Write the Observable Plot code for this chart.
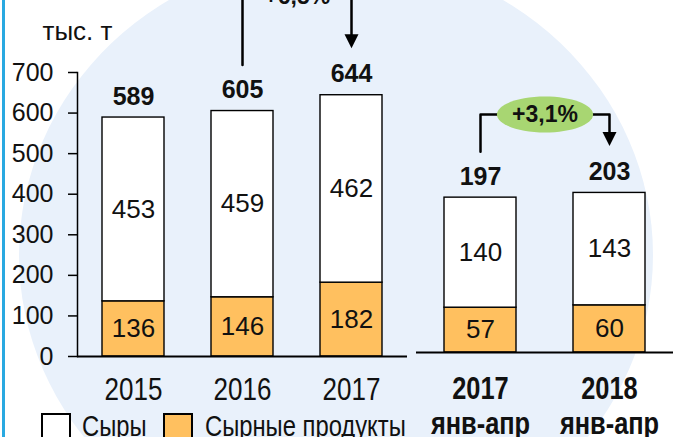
<!DOCTYPE html>
<html><head><meta charset="utf-8">
<script src="https://cdn.jsdelivr.net/npm/d3@7"></script>
<script src="https://cdn.jsdelivr.net/npm/@observablehq/plot@0.6"></script>
<style>
body{margin:0;background:#fff;}
#wrap{position:relative;width:673px;height:437px;overflow:hidden;background:#fff;font-family:'Liberation Sans',Arial,sans-serif;}
#bg{position:absolute;left:19px;top:-45px;width:634px;height:600px;border-radius:50%;background:#e9f1fb;}
#edge{position:absolute;left:2px;top:0;width:3px;height:437px;background:#29a9e1;}
.layer{position:absolute;left:0;top:0;}
.layer svg{background:transparent !important;overflow:visible;}
.lg{position:absolute;}
.sw{top:413px;width:30px;height:30px;border:2px solid #000;box-sizing:border-box;}
.lt{top:411px;font-family:'Liberation Sans',Arial,sans-serif;font-size:29px;line-height:30px;color:#111;white-space:nowrap;transform:scaleX(0.82);transform-origin:left center;}
</style>
</head><body>
<div id="wrap">
  <div id="bg"></div>
  <div id="edge"></div>
  <div id="left" class="layer"></div>
  <div id="right" class="layer"></div>
  <div id="legend"></div>
</div>
<script>
// ---- data ----
const years = ["2015", "2016", "2017"];
const cheeseYear = [453, 459, 462];
const productsYear = [136, 146, 182];
const totalYear = [589, 605, 644];
const periods = ["2017\nянв-апр", "2018\nянв-апр"];
const cheesePeriod = [140, 143];
const productsPeriod = [57, 60];
const totalPeriod = [197, 203];
const yTicks = [0, 100, 200, 300, 400, 500, 600, 700];
const seriesNames = ["Сыры", "Сырные продукты"];
const unitLabel = "тыс. т";
const growthYear = ["2016", "2017", "+6,5%"];
const growthPeriod = ["2017\nянв-апр", "2018\nянв-апр", "+3,1%"];

// ---- styles ----
const FONT = "'Liberation Sans', Arial, sans-serif";
const colors = ["#ffffff", "#ffc05f"];
const W = 673, H = 437;

function rowsOf(cats, cheese, products) {
  const rows = [];
  cats.forEach((c, i) => {
    rows.push({cat: c, series: seriesNames[1], value: products[i]});
    rows.push({cat: c, series: seriesNames[0], value: cheese[i]});
  });
  return rows;
}

const ellipseSym = {draw(ctx, size) {
  const r = Math.sqrt(size / Math.PI), rx = r * 2.67, ry = r, k = 0.5523;
  ctx.moveTo(rx, 0);
  ctx.bezierCurveTo(rx, ry * k, rx * k, ry, 0, ry);
  ctx.bezierCurveTo(-rx * k, ry, -rx, ry * k, -rx, 0);
  ctx.bezierCurveTo(-rx, -ry * k, -rx * k, -ry, 0, -ry);
  ctx.bezierCurveTo(rx * k, -ry, rx, -ry * k, rx, 0);
  ctx.closePath();
}};
const arrowSym = {draw(ctx, size) {
  const r = Math.sqrt(size / Math.PI);
  ctx.moveTo(0, 0); ctx.lineTo(-r, -2 * r); ctx.lineTo(r, -2 * r); ctx.closePath();
}};

function squeeze(svg, k) {
  d3.select(svg).selectAll('g[aria-label="x-axis tick label"] text').each(function () {
    const t = this.getAttribute("transform") || "";
    this.setAttribute("transform", t + ` scale(${k},1)`);
  });
}

function panel(o) {
  const rows = rowsOf(o.cats, o.cheese, o.products);
  const totals = o.cats.map((c, i) => ({cat: c, total: o.totals[i]}));
  const plotH = H - o.marginTop - o.marginBottom;
  const ppu = plotH / o.yDomain[1];
  const plotW = W - o.marginLeft - o.marginRight;
  const step = plotW / (o.cats.length - o.padIn + 2 * o.padOut);
  const [from, to, label] = o.growth;
  const iF = o.cats.indexOf(from), iT = o.cats.indexOf(to);
  const startV = o.totals[iF] + 46 / ppu;
  const tipV = o.totals[iT] + 47 / ppu;
  const baseV = tipV + 12 / ppu;
  const levelV = o.levelPx / ppu;
  const bracket = [
    {x: from, y: startV}, {x: from, y: levelV}, {x: to, y: levelV}, {x: to, y: baseV}
  ];
  const marks = [
    Plot.barY(rows, Plot.stackY({x: "cat", y: "value", fill: "series", stroke: "#000", strokeWidth: 1.4})),
    Plot.text(rows, Plot.stackY({x: "cat", y: "value", text: "value", fontSize: 26, fontFamily: FONT, fill: "#111"})),
    Plot.text(totals, {x: "cat", y: "total", text: "total", dy: -21, fontSize: 25, fontWeight: "bold", fontFamily: FONT, fill: "#111"}),
    Plot.ruleY([0], {stroke: "#000", strokeWidth: 1.8}),
    Plot.line(bracket, {x: "x", y: "y", stroke: "#000", strokeWidth: 2.5}),
    Plot.dot([{x: to, y: tipV}], {x: "x", y: "y", symbol: arrowSym, r: 7, fill: "#000", stroke: null})
  ];
  if (o.ellipse) marks.push(Plot.dot([{x: from, y: levelV}], {x: "x", y: "y", dx: step / 2, symbol: ellipseSym, r: 18, fill: "#a8d672", stroke: null}));
  marks.push(Plot.text([{x: from, y: levelV, t: label}], {x: "x", y: "y", text: "t", dx: step / 2, fontSize: 23, fontWeight: "bold", fontFamily: FONT, fill: "#111"}));
  marks.push(...o.axes);
  const svg = Plot.plot({
    width: W, height: H,
    marginLeft: o.marginLeft, marginRight: o.marginRight, marginTop: o.marginTop, marginBottom: o.marginBottom,
    style: {background: "transparent", overflow: "visible"},
    x: {type: "band", domain: o.cats, paddingInner: o.padIn, paddingOuter: o.padOut, axis: null},
    y: {domain: o.yDomain, axis: null},
    color: {domain: seriesNames, range: colors},
    marks
  });
  squeeze(svg, o.squeeze);
  return svg;
}

const left = panel({
  cats: years, cheese: cheeseYear, products: productsYear, totals: totalYear, growth: growthYear,
  marginLeft: 77, marginRight: 266, marginTop: 72, marginBottom: 81, yDomain: [0, 700],
  padIn: 0.434, padOut: 0.224, levelPx: 360, ellipse: false, squeeze: 0.84,
  axes: [
    Plot.axisY(yTicks, {tickSize: 9, tickPadding: 15, fontSize: 25, fontFamily: FONT, strokeWidth: 1.5, label: null, tickFormat: d => String(d), fill: "#111"}),
    Plot.frame({anchor: "left", stroke: "#000", strokeWidth: 1.5}),
    Plot.axisX({tickSize: 0, tickPadding: 21, fontSize: 31, fontFamily: FONT, label: null, fill: "#111"}),
    Plot.text([unitLabel], {frameAnchor: "top-left", dx: -35, dy: -51, textAnchor: "start", fontSize: 26, fontFamily: FONT, fill: "#111"})
  ]
});
document.getElementById("left").appendChild(left);

const right = panel({
  cats: periods, cheese: cheesePeriod, products: productsPeriod, totals: totalPeriod, growth: growthPeriod,
  marginLeft: 416, marginRight: 0, marginTop: 69, marginBottom: 85, yDomain: [0, 360],
  padIn: 0.442, padOut: 0.217, levelPx: 238, ellipse: true, squeeze: 0.82,
  axes: [
    Plot.axisX({tickSize: 0, tickPadding: 22, fontSize: 31, fontWeight: "bold", fontFamily: FONT, lineHeight: 1.12, label: null, fill: "#111"})
  ]
});
document.getElementById("right").appendChild(right);

// legend
const lg = document.getElementById("legend");
const legendItems = [
  {name: seriesNames[0], color: colors[0], sw: 41, tx: 82},
  {name: seriesNames[1], color: colors[1], sw: 163, tx: 205}
];
legendItems.forEach(it => {
  const s = document.createElement("div");
  s.className = "lg sw"; s.style.left = it.sw + "px"; s.style.background = it.color;
  lg.appendChild(s);
  const t = document.createElement("div");
  t.className = "lg lt"; t.style.left = it.tx + "px"; t.textContent = it.name;
  lg.appendChild(t);
});
</script>
</body></html>
